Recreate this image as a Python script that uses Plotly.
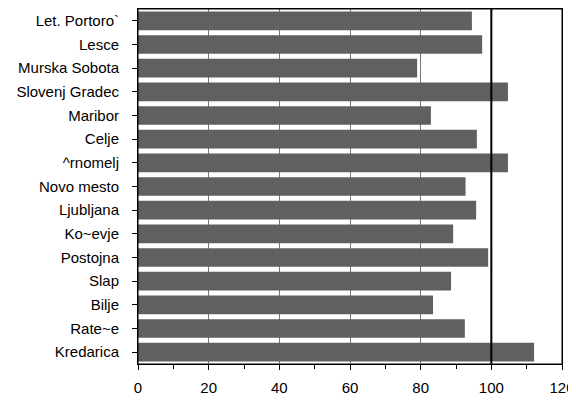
import plotly.graph_objects as go

stations = ["Let. Portoro`", "Lesce", "Murska Sobota", "Slovenj Gradec", "Maribor",
            "Celje", "^rnomelj", "Novo mesto", "Ljubljana", "Ko~evje", "Postojna",
            "Slap", "Bilje", "Rate~e", "Kredarica"]
values = [94.5, 97.4, 79.0, 104.7, 82.9, 95.9, 104.7, 92.7, 95.7, 89.2, 99.1,
          88.6, 83.5, 92.5, 112.1]
x_ticks = [0, 20, 40, 60, 80, 100, 120]
ref_value = 100

fig = go.Figure(go.Bar(
    y=stations, x=values, orientation="h",
    marker=dict(color="#606060", line=dict(width=0)),
))

font = dict(family="Liberation Sans, Arial, sans-serif", size=15, color="black")

fig.update_layout(
    width=568, height=387,
    margin=dict(l=130, r=14, t=1, b=31, autoexpand=False),
    paper_bgcolor="white", plot_bgcolor="white",
    bargap=0.21,
    showlegend=False,
    font=font,
)
fig.update_xaxes(
    range=[0, 120], tickvals=x_ticks, ticks="outside", ticklen=5, tickcolor="black",
    showgrid=True, gridcolor="#777777", gridwidth=1,
    showline=True, linecolor="black", linewidth=1, mirror=True,
    zeroline=False, ticklabelstandoff=5, automargin=False,
    ticklabeloverflow="allow",
    minor=dict(dtick=10, ticks="outside", ticklen=4, tickcolor="black", showgrid=False),
)
fig.update_yaxes(
    autorange="reversed", ticks="outside", ticklen=5, tickcolor="black",
    showline=True, linecolor="black", linewidth=1, mirror=True,
    showgrid=False, ticklabelstandoff=10, automargin=False,
)
fig.add_shape(type="rect", xref="paper", yref="paper", x0=0, x1=1, y0=0, y1=1,
              line=dict(color="black", width=1), layer="above")
fig.add_shape(type="line", xref="x", yref="paper", x0=ref_value, x1=ref_value,
              y0=0, y1=1.008, line=dict(color="black", width=2))

fig.write_html("out.html")
